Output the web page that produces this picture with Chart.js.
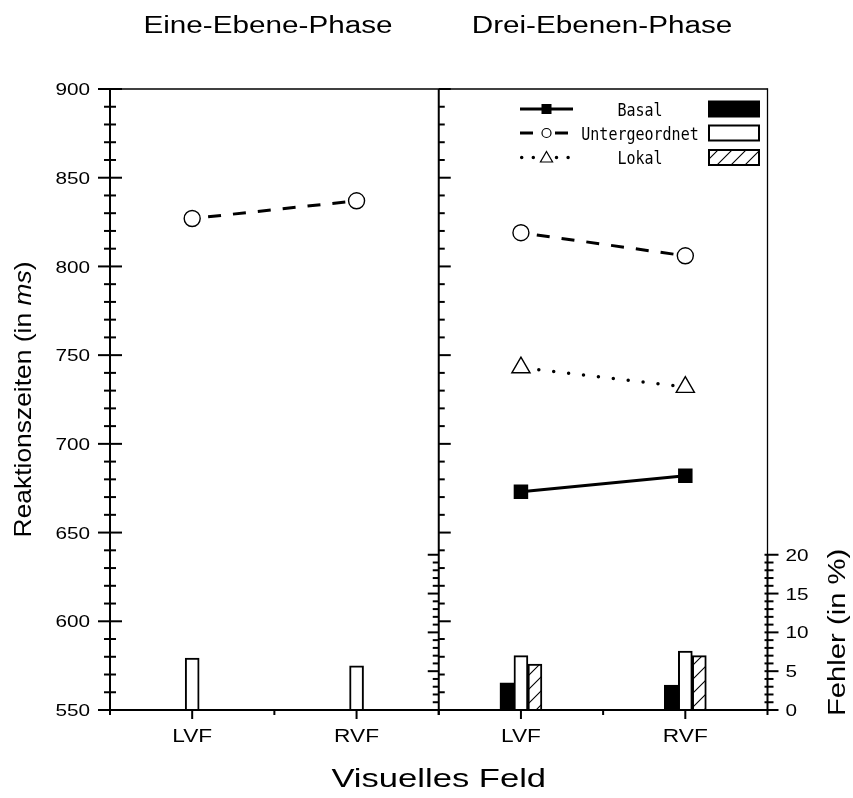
<!DOCTYPE html>
<html><head><meta charset="utf-8">
<script src="https://cdn.jsdelivr.net/npm/chart.js@4"></script>
<style>html,body{margin:0;padding:0;background:#fff}canvas{display:block}</style>
</head><body>
<canvas id="c" width="853" height="798"></canvas>
<script>
// ---- data ----
const categories = ['LVF', 'RVF', 'LVF', 'RVF'];
const panelTitles = ['Eine-Ebene-Phase', 'Drei-Ebenen-Phase'];
const seriesNames = ['Basal', 'Untergeordnet', 'Lokal'];
const rtBasal = [null, null, 673, 682];
const rtUntergeordnet = [827, 837, 819, 806];
const rtLokal = [null, null, 743, 732];
const errBasal = [null, null, 3.5, 3.2];
const errUntergeordnet = [6.7, 5.7, 7.0, 7.6];
const errLokal = [null, null, 5.9, 7.0];
const rtTicks = [550, 600, 650, 700, 750, 800, 850, 900];
const errTicks = [0, 5, 10, 15, 20];
const xTitle = 'Visuelles Feld';
const rtTitle = ['Reaktionszeiten (in ', 'ms', ')'];
const errTitle = 'Fehler (in %)';

const SANS = "'Liberation Sans', Arial, sans-serif";
const MONO = "'DejaVu Sans Mono', 'Liberation Mono', monospace";

const canvas = document.getElementById('c');
function makeHatch() {
  const t = document.createElement('canvas');
  const s = 14;
  t.width = s; t.height = s;
  const g = t.getContext('2d');
  g.fillStyle = '#fff'; g.fillRect(0, 0, s, s);
  g.strokeStyle = '#000'; g.lineWidth = 1.1;
  g.beginPath();
  g.moveTo(0, s); g.lineTo(s, 0);
  g.moveTo(-2, 2); g.lineTo(2, -2);
  g.moveTo(s - 2, s + 2); g.lineTo(s + 2, s - 2);
  g.stroke();
  return canvas.getContext('2d').createPattern(t, 'repeat');
}
const hatch = makeHatch();

const panelBreak = ctx => (ctx.p0DataIndex === 1 ? 'rgba(0,0,0,0)' : undefined);

const framePlugin = {
  id: 'frame',
  afterDatasetsDraw(chart) {
    const { ctx, chartArea: a, scales } = chart;
    const x = scales.x, y = scales.y, y2 = scales.y2;
    const div = (x.getPixelForValue(1) + x.getPixelForValue(2)) / 2;
    const errMax = errTicks[errTicks.length - 1];
    const errTop = y2.getPixelForValue(errMax);
    ctx.save();
    ctx.strokeStyle = '#000'; ctx.fillStyle = '#000'; ctx.lineCap = 'butt';
    const seg = (x1, y1, x2, yy2, w) => { ctx.lineWidth = w; ctx.beginPath(); ctx.moveTo(x1, y1); ctx.lineTo(x2, yy2); ctx.stroke(); };
    // frame lines
    seg(a.left, a.top, a.right, a.top, 1.5);
    seg(a.left, a.top - 0.75, a.left, a.bottom, 2);
    seg(div, a.top, div, a.bottom + 5, 2);
    seg(a.right, a.top - 0.75, a.right, errTop, 1.3);
    seg(a.right, errTop, a.right, a.bottom, 2);
    seg(a.left - 12, a.bottom, a.right + 3, a.bottom, 2);
    // reaction-time ticks (left axis crossing, divider inward)
    for (let v = y.min; v <= y.max; v += 10) {
      const py = y.getPixelForValue(v);
      const major = v % 50 === 0;
      seg(a.left - (major ? 12 : 6), py, a.left + (major ? 12 : 6), py, 2);
      seg(div, py, div + (major ? 12 : 6), py, 2);
    }
    // error ticks (divider leftward, right axis outward)
    for (let v = 0; v <= errMax; v += 1) {
      const py = y2.getPixelForValue(v);
      const major = v % 5 === 0;
      seg(div - (major ? 11 : 6), py, div, py, 2);
      seg(a.right - 3, py, a.right + (major ? 11 : 6), py, 2);
    }
    // x ticks
    categories.forEach((c, i) => { const px = x.getPixelForValue(i); seg(px, a.bottom, px, a.bottom + 9, 2); });
    for (let i = 0; i <= categories.length; i++) {
      const px = i === 0 ? a.left : (i === categories.length ? a.right : (x.getPixelForValue(i - 1) + x.getPixelForValue(i)) / 2);
      seg(px, a.bottom, px, a.bottom + 5, 2);
    }
    // text helper
    const T = (s, px, py, font, sx, sy, align, base, rot) => {
      ctx.save(); ctx.translate(px, py); if (rot) ctx.rotate(rot); ctx.scale(sx, sy);
      ctx.font = font; ctx.textAlign = align; ctx.textBaseline = base; ctx.fillStyle = '#000';
      ctx.fillText(s, 0, 0); ctx.restore();
    };
    rtTicks.forEach(v => T(String(v), a.left - 20, y.getPixelForValue(v) + 6.1, `17px ${SANS}`, 1.22, 1, 'right', 'alphabetic'));
    errTicks.forEach(v => T(String(v), a.right + 18, y2.getPixelForValue(v) + 6.1, `17px ${SANS}`, 1.22, 1, 'left', 'alphabetic'));
    categories.forEach((c, i) => T(c, x.getPixelForValue(i), 742, `18px ${SANS}`, 1.26, 1, 'center', 'alphabetic'));
    T(xTitle, (a.left + a.right) / 2, 787, `26px ${SANS}`, 1.33, 1, 'center', 'alphabetic');
    T(panelTitles[0], 268, 32.7, `23px ${SANS}`, 1.29, 1, 'center', 'alphabetic');
    T(panelTitles[1], 602, 32.7, `23px ${SANS}`, 1.29, 1, 'center', 'alphabetic');
    // rotated RT title with italic ms
    {
      const size = 24, sx = 1.1;
      const fonts = [`${size}px ${SANS}`, `italic ${size}px ${SANS}`, `${size}px ${SANS}`];
      ctx.save();
      ctx.translate(24, (a.top + a.bottom) / 2); ctx.rotate(-Math.PI / 2); ctx.scale(sx, 1);
      let total = 0; const w = [];
      rtTitle.forEach((p, i) => { ctx.font = fonts[i]; w[i] = ctx.measureText(p).width; total += w[i]; });
      let cx = -total / 2;
      ctx.textAlign = 'left'; ctx.textBaseline = 'middle'; ctx.fillStyle = '#000';
      rtTitle.forEach((p, i) => { ctx.font = fonts[i]; ctx.fillText(p, cx, 0); cx += w[i]; });
      ctx.restore();
    }
    T(errTitle, 839, (errTop + a.bottom) / 2, `23px ${SANS}`, 1.27, 1, 'center', 'middle', -Math.PI / 2);
    // legend
    const rows = [109, 133, 157.5];
    const mx = 546.5;
    seg(520, rows[0], 573, rows[0], 3);
    ctx.fillRect(mx - 5, rows[0] - 5, 10, 10);
    seg(520, rows[1], 533, rows[1], 3);
    seg(555, rows[1], 568, rows[1], 3);
    ctx.beginPath(); ctx.arc(mx, rows[1], 4.5, 0, Math.PI * 2); ctx.fillStyle = '#fff'; ctx.fill(); ctx.lineWidth = 1.2; ctx.stroke();
    ctx.fillStyle = '#000';
    ctx.save(); ctx.setLineDash([0, 11.6]); ctx.lineCap = 'round'; seg(521.7, rows[2], 576, rows[2], 3.5); ctx.restore();
    {
      const r = 7, cy = rows[2] + 1;
      ctx.beginPath();
      ctx.moveTo(mx, cy - r); ctx.lineTo(mx + 0.866 * r, cy + r / 2); ctx.lineTo(mx - 0.866 * r, cy + r / 2); ctx.closePath();
      ctx.fillStyle = '#fff'; ctx.fill(); ctx.lineWidth = 1.2; ctx.stroke(); ctx.fillStyle = '#000';
    }
    seriesNames.forEach((n, i) => T(n, 640, rows[i] + 6.5, `15px ${MONO}`, 1, 1.2, 'center', 'alphabetic'));
    const boxFills = ['#000', '#fff', hatch];
    seriesNames.forEach((n, i) => {
      ctx.fillStyle = boxFills[i];
      ctx.fillRect(709, rows[i] - 7.5, 50, 15);
      ctx.lineWidth = 2; ctx.strokeRect(709, rows[i] - 7.5, 50, 15);
    });
    ctx.restore();
  }
};

const barCommon = { type: 'bar', yAxisID: 'y2', xAxisID: 'x', barThickness: 14, skipNull: true, borderColor: '#000', borderWidth: 2, order: 1 };
const lineCommon = { type: 'line', yAxisID: 'y', xAxisID: 'x', borderColor: '#000', pointBorderColor: '#000', fill: false, spanGaps: false, order: 0, segment: { borderColor: panelBreak } };

new Chart(canvas, {
  data: {
    labels: categories,
    datasets: [
      Object.assign({}, barCommon, { label: seriesNames[0] + ' Fehler', data: errBasal, backgroundColor: '#000' }),
      Object.assign({}, barCommon, { label: seriesNames[1] + ' Fehler', data: errUntergeordnet, backgroundColor: '#fff' }),
      Object.assign({}, barCommon, { label: seriesNames[2] + ' Fehler', data: errLokal, backgroundColor: hatch }),
      Object.assign({}, lineCommon, { label: seriesNames[0], data: rtBasal, borderWidth: 3, pointStyle: 'rect', pointRadius: 10.25, pointBackgroundColor: '#000', pointBorderWidth: 0 }),
      Object.assign({}, lineCommon, { label: seriesNames[1], data: rtUntergeordnet, borderWidth: 3, borderDash: [13, 12], borderDashOffset: 9, pointStyle: 'circle', pointRadius: 8, pointBackgroundColor: '#fff', pointBorderWidth: 1.4 }),
      Object.assign({}, lineCommon, { label: seriesNames[2], data: rtLokal, borderWidth: 3.5, borderDash: [0, 15], borderDashOffset: 12, borderCapStyle: 'round', pointStyle: 'triangle', pointRadius: 10.5, pointBackgroundColor: '#fff', pointBorderWidth: 1.4 })
    ]
  },
  options: {
    responsive: false,
    animation: false,
    devicePixelRatio: 1,
    layout: { padding: { left: 110, right: 85.5, top: 89, bottom: 88 } },
    plugins: { legend: { display: false }, tooltip: { enabled: false } },
    scales: {
      x: { type: 'category', labels: categories, offset: true, display: false },
      y: { type: 'linear', min: 550, max: 900, display: false },
      y2: { type: 'linear', min: 0, max: 80, display: false }
    }
  },
  plugins: [framePlugin]
});
</script>
</body></html>
